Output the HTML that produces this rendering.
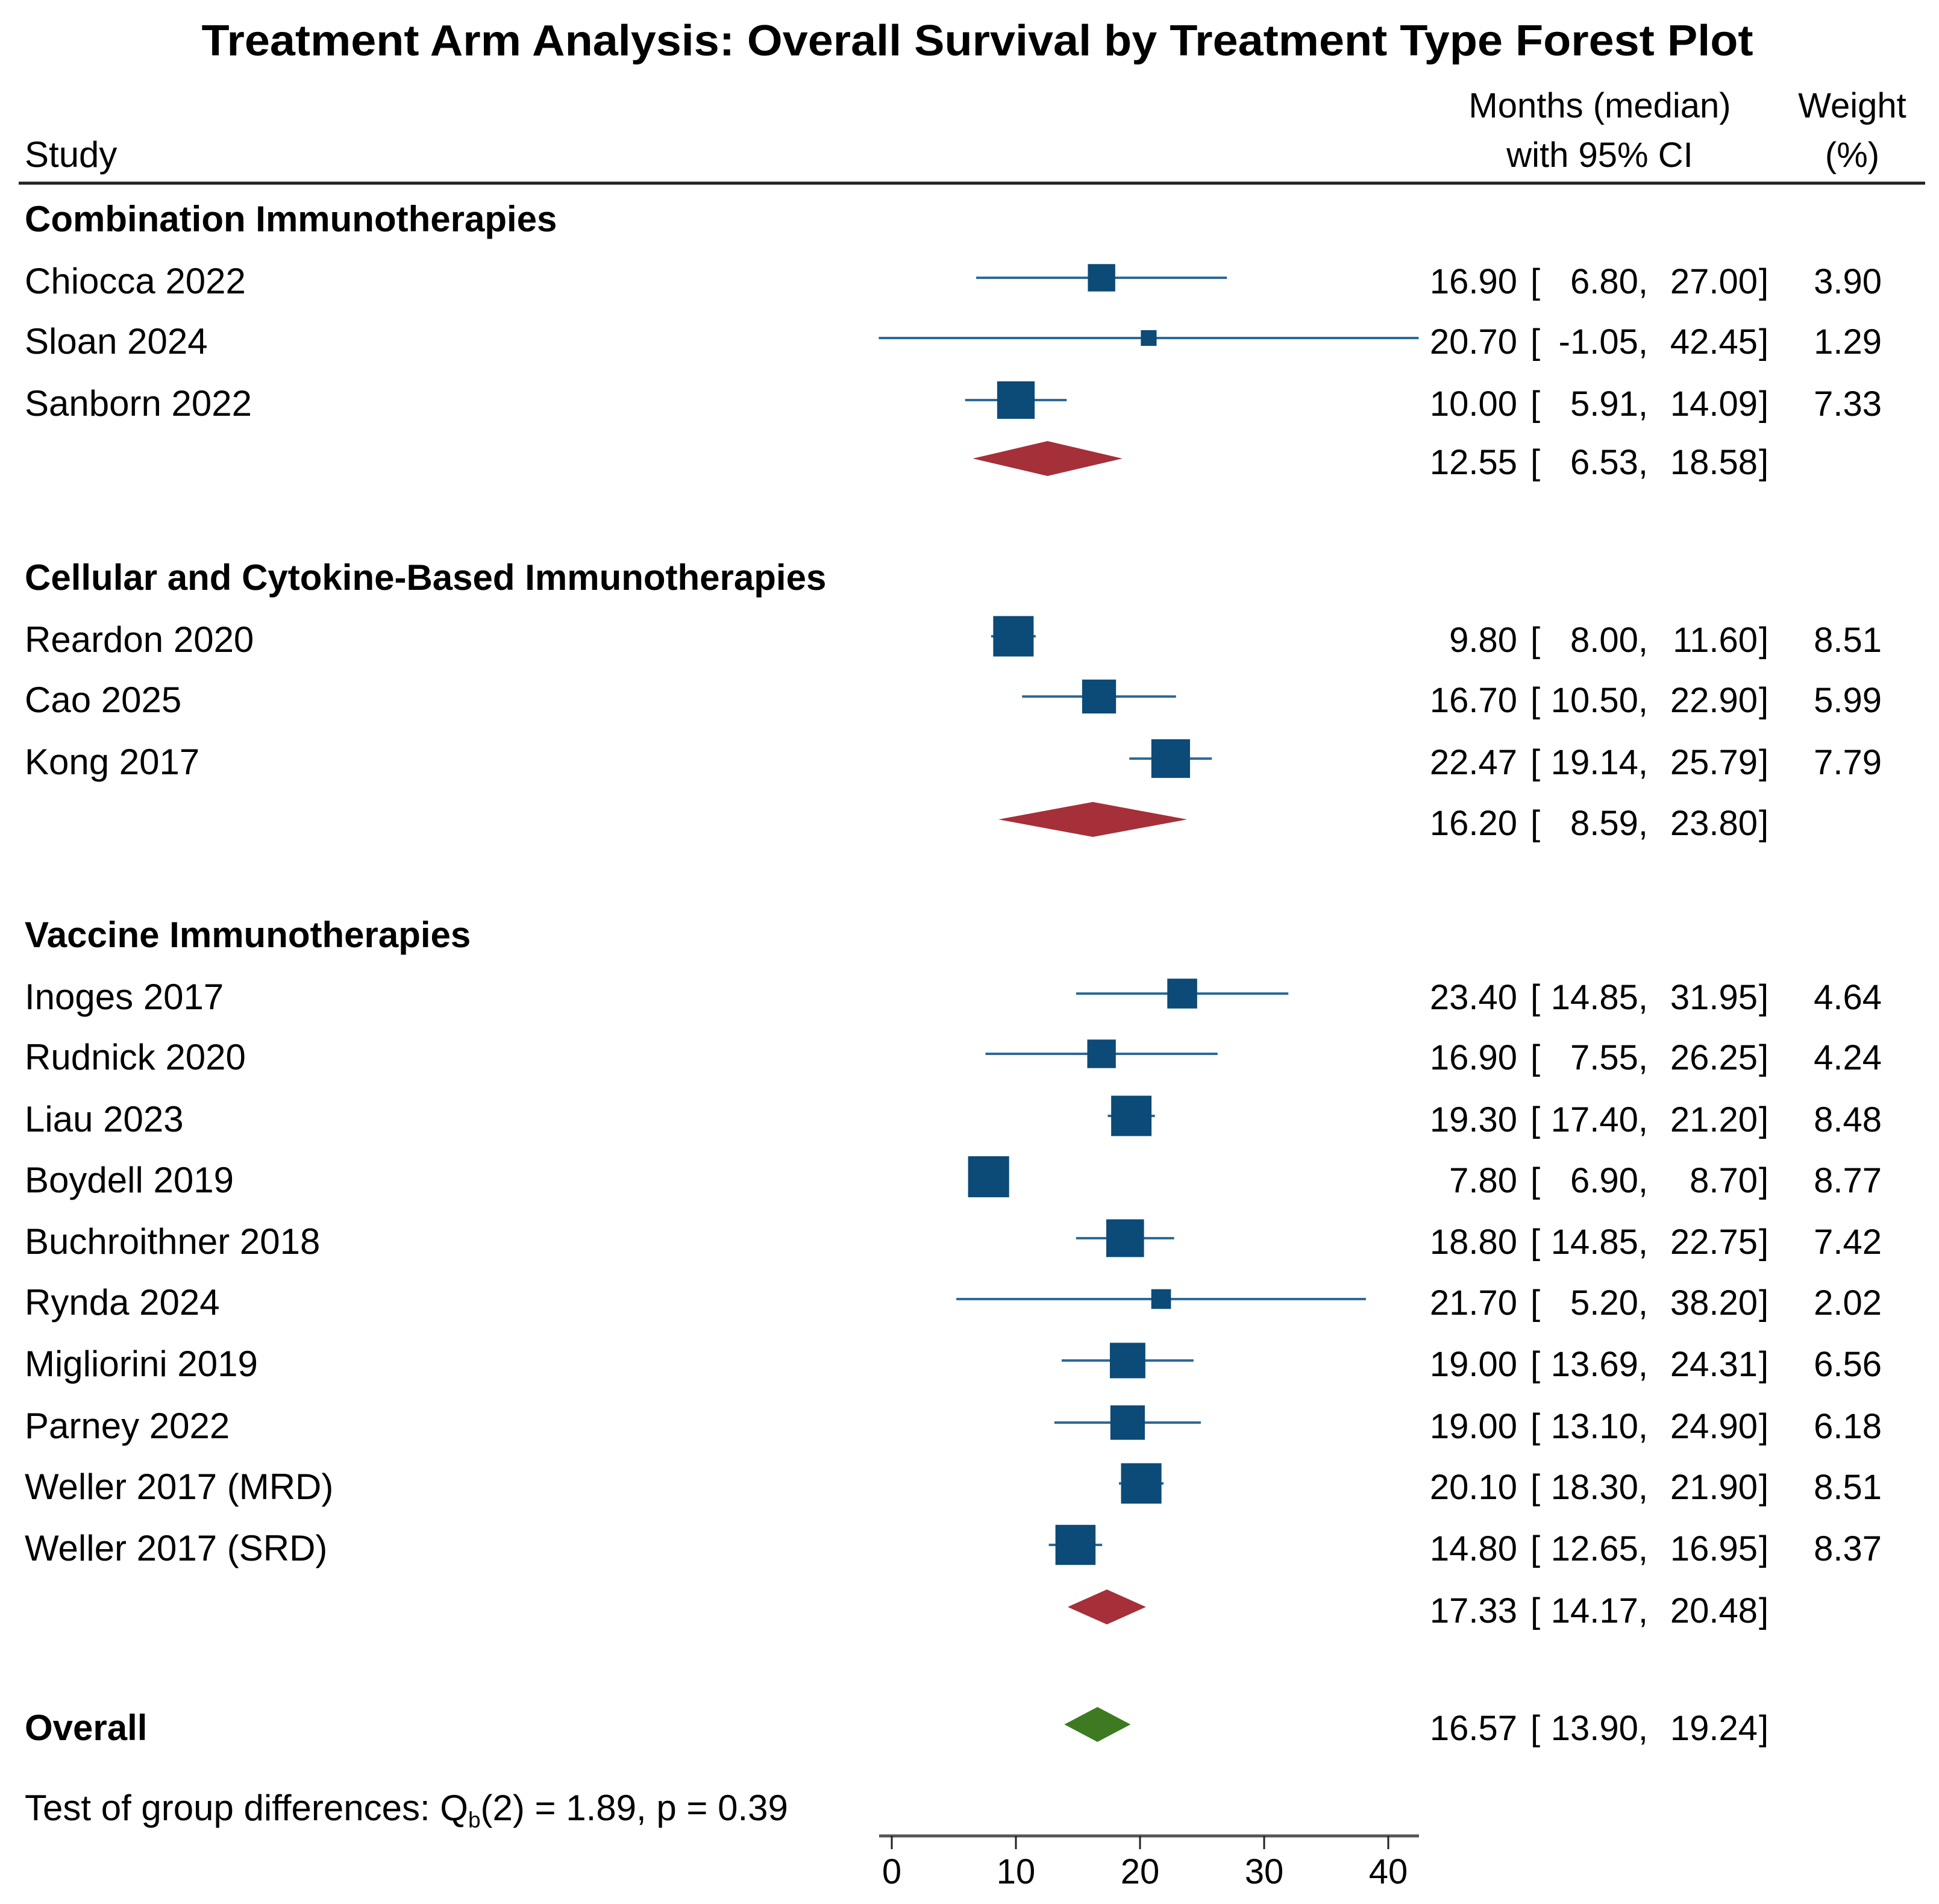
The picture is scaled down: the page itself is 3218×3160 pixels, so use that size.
<!DOCTYPE html>
<html><head><meta charset="utf-8"><style>
html,body{margin:0;padding:0;background:#fff}
svg{display:block;font-family:"Liberation Sans",Arial,sans-serif}
</style></head><body>
<svg id="c" width="3218" height="3160" viewBox="0 0 3218 3160" xmlns="http://www.w3.org/2000/svg">
<text x="1622" y="92" font-size="72" font-weight="bold" text-anchor="middle" textLength="2575" lengthAdjust="spacingAndGlyphs">Treatment Arm Analysis: Overall Survival by Treatment Type Forest Plot</text>
<text x="41" y="277" font-size="60">Study</text>
<text x="2655" y="195" font-size="58" text-anchor="middle">Months (median)</text>
<text x="2655" y="277" font-size="58" text-anchor="middle">with 95% CI</text>
<text x="3074" y="195" font-size="58" text-anchor="middle">Weight</text>
<text x="3074" y="277" font-size="58" text-anchor="middle">(%)</text>
<line x1="31" y1="304" x2="3195" y2="304" stroke="#222" stroke-width="5"/>
<g id="rows"></g>
<g id="axis"></g>
<text x="41" y="3021" font-size="60">Test of group differences: Q<tspan font-size="37" dy="12">b</tspan><tspan dy="-12">(2) = 1.89, p = 0.39</tspan></text>
</svg>
<script>
const labels = ["Combination Immunotherapies","Chiocca 2022","Sloan 2024","Sanborn 2022","","Cellular and Cytokine-Based Immunotherapies","Reardon 2020","Cao 2025","Kong 2017","","Vaccine Immunotherapies","Inoges 2017","Rudnick 2020","Liau 2023","Boydell 2019","Buchroithner 2018","Rynda 2024","Migliorini 2019","Parney 2022","Weller 2017 (MRD)","Weller 2017 (SRD)","","Overall"];
const kinds = ["h","s","s","s","d","h","s","s","s","d","h","s","s","s","s","s","s","s","s","s","s","d","o"];
const rowY = [363,466,566,669,766,958,1061,1161,1264,1365,1551,1654,1754,1857,1958,2060,2161,2263,2366,2467,2569,2672,2867];
const est = [null,16.90,20.70,10.00,12.55,null,9.80,16.70,22.47,16.20,null,23.40,16.90,19.30,7.80,18.80,21.70,19.00,19.00,20.10,14.80,17.33,16.57];
const lo = [null,6.80,-1.05,5.91,6.53,null,8.00,10.50,19.14,8.59,null,14.85,7.55,17.40,6.90,14.85,5.20,13.69,13.10,18.30,12.65,14.17,13.90];
const hi = [null,27.00,42.45,14.09,18.58,null,11.60,22.90,25.79,23.80,null,31.95,26.25,21.20,8.70,22.75,38.20,24.31,24.90,21.90,16.95,20.48,19.24];
const weights = [null,3.90,1.29,7.33,null,null,8.51,5.99,7.79,null,null,4.64,4.24,8.48,8.77,7.42,2.02,6.56,6.18,8.51,8.37,null,null];
const ticks = [0,10,20,30,40];

const NS = "http://www.w3.org/2000/svg";
const x = v => 1480 + v * 20.6;
const g = document.getElementById('rows');
function mk(tag, attrs, parent){const e=document.createElementNS(NS,tag);for(const k in attrs)e.setAttribute(k,attrs[k]);parent.appendChild(e);return e;}
function txt(s, xx, yy, anchor, bold, parent, fs){const t=mk('text',{x:xx,y:yy,'font-size':fs||58,'text-anchor':anchor},parent);if(bold)t.setAttribute('font-weight','bold');t.textContent=s;return t;}
const f2 = v => v.toFixed(2);
for(let i=0;i<labels.length;i++){
  const y=rowY[i], k=kinds[i], bl=y+21;
  if(labels[i]){
    const t=txt(labels[i],41,bl,'start',k==='h'||k==='o',g,60);
    
    
  }
  if(est[i]===null) continue;
  const my=y-5;
  if(k==='s'){
    const l=mk('line',{x1:x(lo[i]),x2:x(hi[i]),y1:my,y2:my,stroke:'#2b6a9b','stroke-width':4},g);
    
    
    const s=23*Math.sqrt(weights[i]);
    const r=mk('rect',{x:x(est[i])-s/2,y:my-s/2,width:s,height:s,fill:'#0c4a78'},g);
    
    
  } else {
    const col=k==='o'?'#3e7a22':'#a5303a';
    const p=mk('polygon',{points:`${x(lo[i])},${my} ${x(est[i])},${my-29} ${x(hi[i])},${my} ${x(est[i])},${my+29}`,fill:col},g);
    
    
  }
  const a=txt(f2(est[i]),2518,bl,'end',false,g);
  
  
  const b1=txt('[',2540,bl,'start',false,g);
  
  
  const b=txt(f2(lo[i])+',',2735,bl,'end',false,g);
  
  
  const c=txt(f2(hi[i]),2917,bl,'end',false,g);
  
  
  const b2=txt(']',2919,bl,'start',false,g);
  
  
  if(weights[i]!==null){
    const w=txt(f2(weights[i]),3123,bl,'end',false,g);
    
    
  }
}
const ax=document.getElementById('axis');
const al=mk('line',{x1:1459,x2:2355,y1:3047,y2:3047,stroke:'#555','stroke-width':5},ax);


ticks.forEach(t=>{
  const tl=mk('line',{x1:x(t),x2:x(t),y1:3047,y2:3069,stroke:'#222','stroke-width':3},ax);
  
  
  const tt=txt(String(t),x(t),3126,'middle',false,ax);
  
  
});
</script>
</body></html>
